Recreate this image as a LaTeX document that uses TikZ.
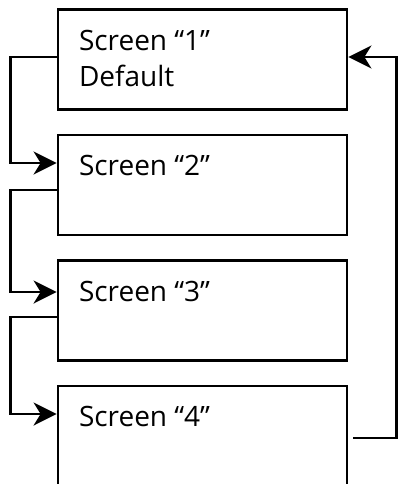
\documentclass[tikz,border=0pt]{standalone}
\usepackage{fontspec}
\setmainfont{Open Sans}
\usetikzlibrary{arrows.meta}
\begin{document}
\begin{tikzpicture}[x=1pt, y=-1pt, line width=2.8pt,
    screen/.style={draw, minimum width=289pt, minimum height=100pt, inner sep=0pt},
    caption/.style={anchor=base west, inner sep=0pt, font=\fontsize{28}{34}\selectfont},
    link/.style={-{Stealth[length=23pt, width=23pt, inset=7pt]}}]
  \useasboundingbox (0,0) rectangle (398,484);

  % the four screens
  \foreach \i/\y in {1/59.5,2/185,3/310.5,4/436}{
    \node[screen] (s\i) at (202.5,\y) {};
    \node[caption] (t\i) at ([xshift=21pt, yshift=-42pt]s\i.north west) {Screen “\i”};
  }
  \node[caption] (d1) at ([yshift=-36pt]t1.base west) {Default};

  % links on the left
  \foreach \a/\b/\u/\v in {1/2/2.5/22, 2/3/-5/18.5, 3/4/-6.5/22}{
    \draw[link] ([yshift=\u pt]s\a.west) -- ++(-46,0) |- ([yshift=\v pt]s\b.west);
  }

  % back to the default screen
  \draw[link] ([xshift=5pt, yshift=-2pt]s4.east) -- ++(43,0) |- ([yshift=2.5pt]s1.east);
\end{tikzpicture}
\end{document}
